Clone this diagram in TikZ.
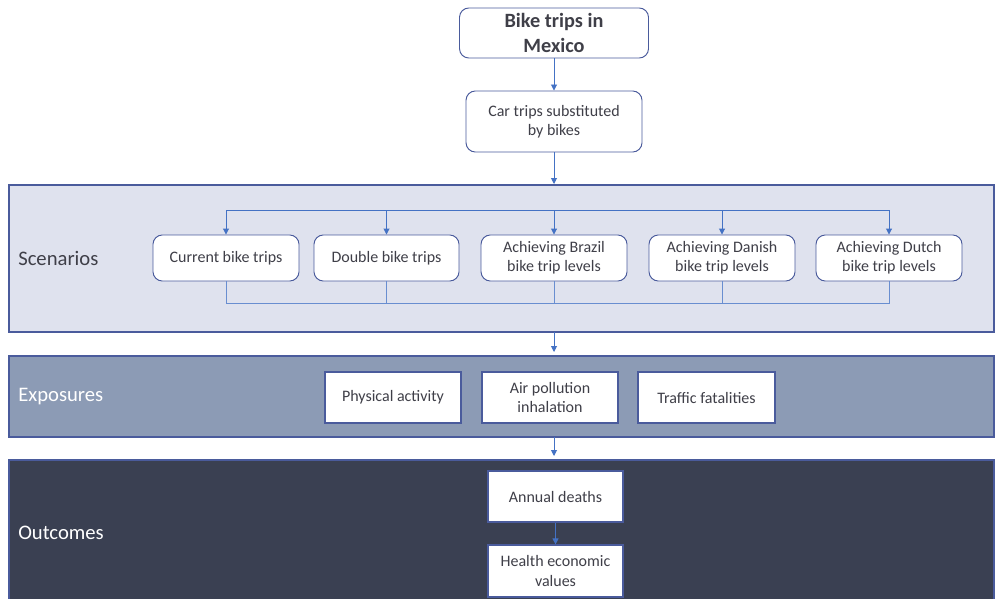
\documentclass[tikz,border=0pt]{standalone}
\usepackage{fontspec}
\setmainfont{Carlito}
\usetikzlibrary{arrows.meta}
\definecolor{linkblue}{HTML}{4472C4}
\definecolor{edgeblue}{HTML}{4A5B9C}
\definecolor{txt}{HTML}{3F3F48}
\definecolor{scenfill}{HTML}{DFE2EE}
\definecolor{expfill}{HTML}{8C9BB5}
\definecolor{outfill}{HTML}{3A4052}
\tikzset{
  band/.style={draw=edgeblue, line width=0.9pt, inner sep=0pt},
  roundbox/.style={draw=edgeblue, fill=white, rounded corners=7pt, line width=0.7pt,
    text=txt, align=center, inner sep=0pt, font=\fontsize{12}{14.3}\selectfont},
  sqbox/.style={draw=edgeblue, fill=white, line width=0.9pt,
    text=txt, align=center, inner sep=0pt, font=\fontsize{12}{14.3}\selectfont},
  bandlabel/.style={anchor=west, inner sep=0pt, font=\fontsize{15.5}{18}\selectfont},
  link/.style={draw=linkblue, line width=0.7pt, -{Triangle[length=4.5pt,width=4.5pt]}},
  plain/.style={draw=linkblue!80, line width=0.5pt}
}
\begin{document}
\begin{tikzpicture}[x=0.75pt,y=-0.75pt]
\useasboundingbox (0,0) rectangle (995,599);
\fill[white] (0,0) rectangle (995,599);

% layer bands
\draw[band, fill=scenfill] (9,185) rectangle (994,332);
\draw[band, fill=expfill] (9,356) rectangle (994,437);
\draw[band, fill=outfill] (9,460) rectangle (994,602);

\node[bandlabel, text=txt] (lscen) at (18,258) {Scenarios};
\node[bandlabel, text=white] (lexp) at (18,397) {Exposures};
\node[bandlabel, text=white] (lout) at (18,533) {Outcomes};

% top chain
\node[roundbox, minimum width=189*0.75pt, minimum height=50*0.75pt,
  font=\fontsize{15.2}{18.8}\selectfont\bfseries] (bike) at (554,33) {Bike trips in\\Mexico};
\node[roundbox, minimum width=176*0.75pt, minimum height=61*0.75pt] (car) at (554,121.5) {Car trips substituted\\by bikes};

% scenarios
\node[roundbox, minimum width=146*0.75pt, minimum height=46*0.75pt] (s1) at (226,258) {Current bike trips};
\node[roundbox, minimum width=145*0.75pt, minimum height=46*0.75pt] (s2) at (386.5,258) {Double bike trips};
\node[roundbox, minimum width=146*0.75pt, minimum height=46*0.75pt] (s3) at (554,258) {Achieving Brazil\\bike trip levels};
\node[roundbox, minimum width=146*0.75pt, minimum height=46*0.75pt] (s4) at (722,258) {Achieving Danish\\bike trip levels};
\node[roundbox, minimum width=146*0.75pt, minimum height=46*0.75pt] (s5) at (889,258) {Achieving Dutch\\bike trip levels};

% exposures
\node[sqbox, minimum width=136*0.75pt, minimum height=51*0.75pt] (e1) at (393,397.5) {Physical activity};
\node[sqbox, minimum width=136*0.75pt, minimum height=51*0.75pt] (e2) at (550,397.5) {Air pollution\\inhalation};
\node[sqbox, minimum width=137*0.75pt, minimum height=51*0.75pt] (e3) at (706.5,397.5) {Traffic fatalities};

% outcomes
\node[sqbox, minimum width=135*0.75pt, minimum height=51*0.75pt] (o1) at (555.5,496.5) {Annual deaths};
\node[sqbox, minimum width=135*0.75pt, minimum height=52*0.75pt] (o2) at (555.5,571) {Health economic\\values};

% connectors
\coordinate (carout) at (554,184);
\draw[link] (bike.south) -- (car.north);
\draw[link] (car.south) -- (carout);

\coordinate (fanL) at (226,210);
\coordinate (fanR) at (890,210);
\draw[linkblue, line width=0.7pt] (fanL) -- (fanR);
\foreach \s in {s1,s2,s3,s4,s5}
  \draw[link] (\s.north |- fanL) -- (\s.north);

\coordinate (joinL) at (226,303);
\coordinate (joinR) at (890,303);
\draw[plain] (joinL) -- (joinR);
\foreach \s in {s1,s2,s3,s4,s5}
  \draw[plain] (\s.south) -- (\s.south |- joinL);

\coordinate (expin) at (554,352);
\coordinate (scenout) at (554,332);
\draw[link] (scenout) -- (expin);
\coordinate (expout) at (554,437);
\coordinate (outin) at (554,456);
\draw[link] (expout) -- (outin);
\draw[link] (o1.south) -- (o2.north);
\end{tikzpicture}
\end{document}
